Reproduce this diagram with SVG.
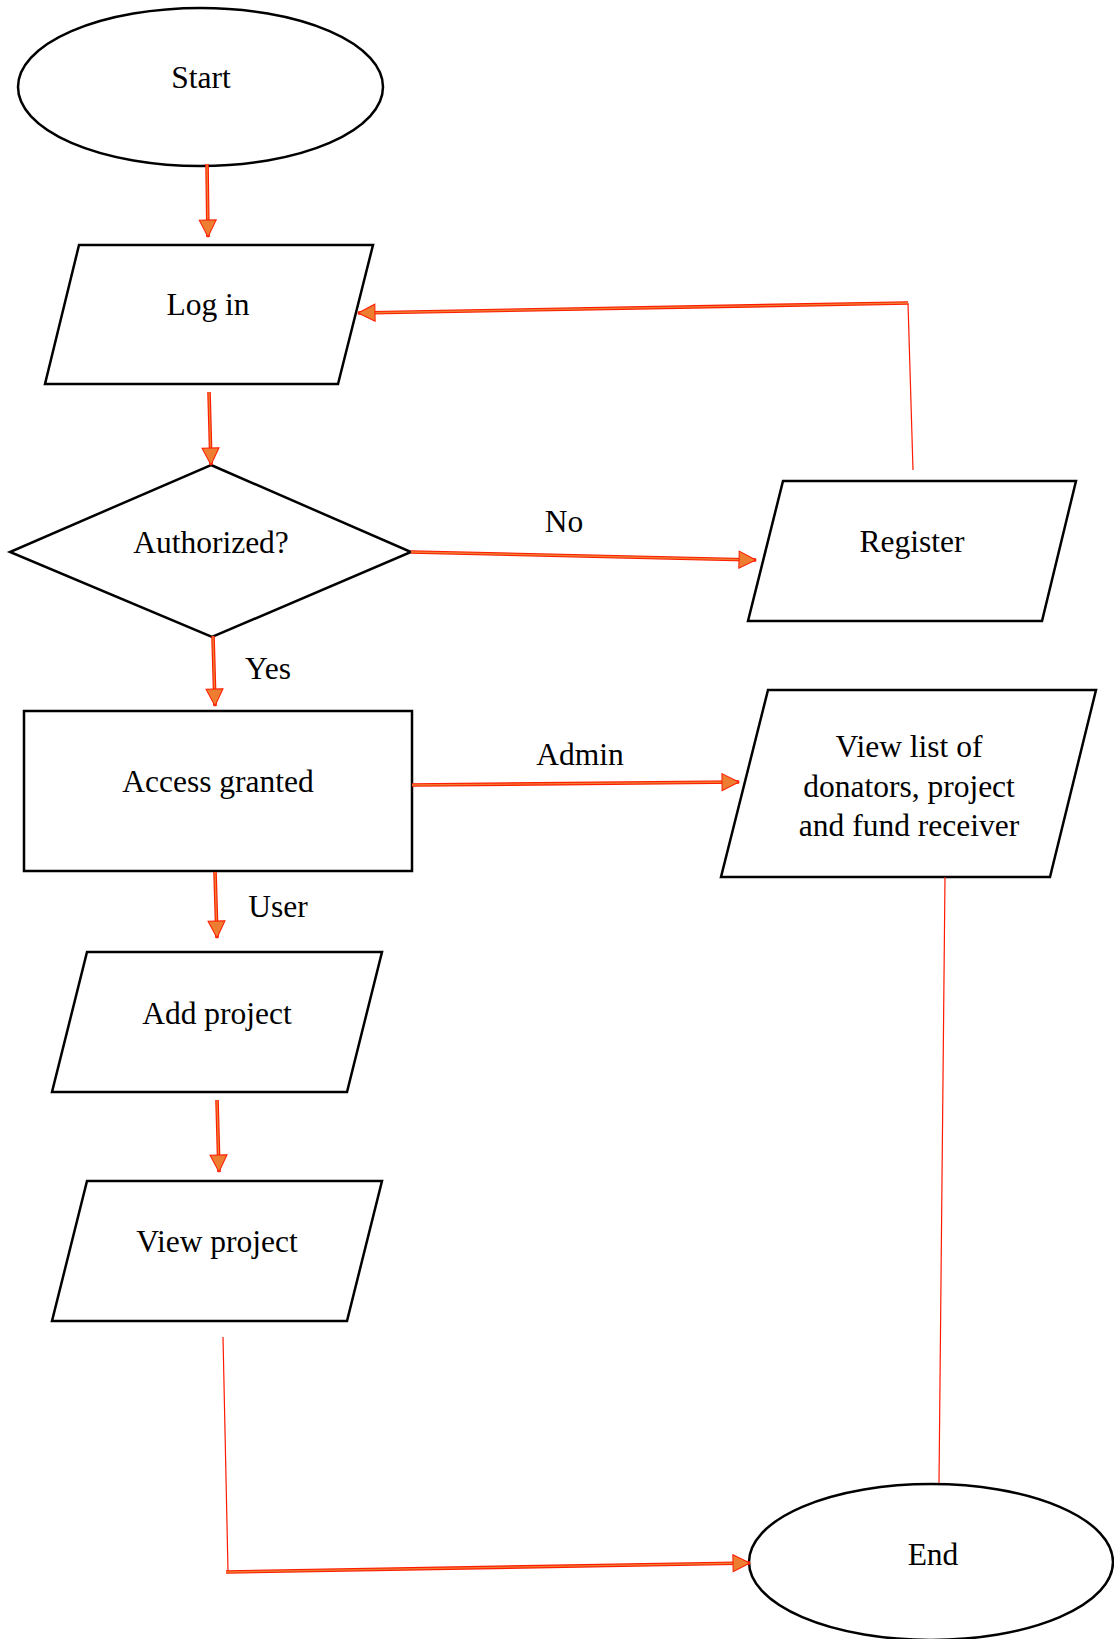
<svg xmlns="http://www.w3.org/2000/svg" width="1114" height="1639" viewBox="0 0 1114 1639">
<style>
.shape{fill:#fff;stroke:#000;stroke-width:2.5}
.lbl{font-family:"Liberation Serif","Times New Roman",serif;font-size:31.5px;fill:#000;text-anchor:middle}
.outer{fill:none;stroke:#ff1a00;stroke-width:3.6}
.inner{fill:none;stroke:#ed7d31;stroke-width:1.4}
.thin{fill:none;stroke:#ff1a00;stroke-width:1.2}
</style>
<defs>
<marker id="ah" markerUnits="userSpaceOnUse" markerWidth="18" markerHeight="18" refX="17" refY="8.5" orient="auto" overflow="visible">
<path d="M0,0 L17,8.5 L0,17 z" fill="#ed7d31" stroke="#ff1a00" stroke-width="1"/>
</marker>
</defs>
<rect width="1114" height="1639" fill="#fff"/>
<g id="start"><ellipse class="shape" cx="200.5" cy="87" rx="182.5" ry="79"/><text class="lbl" x="201" y="88">Start</text></g>
<g id="login"><polygon class="shape" points="79,245 373,245 338,384 45,384"/><text class="lbl" x="208" y="315">Log in</text></g>
<g id="authorized"><polygon class="shape" points="211,465 411,552 212,637 10,552"/><text class="lbl" x="211" y="553">Authorized?</text></g>
<g id="register"><polygon class="shape" points="783,481 1076,481 1042,621 748,621"/><text class="lbl" x="912" y="552">Register</text></g>
<g id="access"><rect class="shape" x="24" y="711" width="388" height="160"/><text class="lbl" x="218" y="792">Access granted</text></g>
<g id="viewlist"><polygon class="shape" points="768,690 1096,690 1050,877 721,877"/><text class="lbl" x="909" y="757">View list of</text><text class="lbl" x="909" y="797">donators, project</text><text class="lbl" x="909" y="836">and fund receiver</text></g>
<g id="addproject"><polygon class="shape" points="87,952 382,952 347,1092 52,1092"/><text class="lbl" x="217" y="1024">Add project</text></g>
<g id="viewproject"><polygon class="shape" points="87,1181 382,1181 347,1321 52,1321"/><text class="lbl" x="217" y="1252">View project</text></g>
<g id="end"><ellipse class="shape" cx="931" cy="1562" rx="182" ry="78"/><text class="lbl" x="933" y="1565">End</text></g>
<g id="connectors">
<path class="outer" d="M207,164 L208,237"/><path class="inner" d="M207,164 L208,237" marker-end="url(#ah)"/>
<path class="outer" d="M209,392 L211,465"/><path class="inner" d="M209,392 L211,465" marker-end="url(#ah)"/>
<path class="outer" d="M213,636 L215,706"/><path class="inner" d="M213,636 L215,706" marker-end="url(#ah)"/>
<path class="outer" d="M215,872 L217,938"/><path class="inner" d="M215,872 L217,938" marker-end="url(#ah)"/>
<path class="outer" d="M217,1100 L219,1172"/><path class="inner" d="M217,1100 L219,1172" marker-end="url(#ah)"/>
<path class="outer" d="M411,552 L756,560"/><path class="inner" d="M411,552 L756,560" marker-end="url(#ah)"/>
<path class="outer" d="M412,785 L739,782"/><path class="inner" d="M412,785 L739,782" marker-end="url(#ah)"/>
<path class="thin" d="M913,470 L908,303"/>
<path class="outer" d="M908,303 L358,313"/><path class="inner" d="M908,303 L358,313" marker-end="url(#ah)"/>
<path class="thin" d="M945,877 L939,1483"/>
<path class="thin" d="M223,1337 L228,1571"/>
<path class="outer" d="M226,1572 L750,1563"/><path class="inner" d="M226,1572 L750,1563" marker-end="url(#ah)"/>
<text class="lbl" x="564" y="532">No</text>
<text class="lbl" x="268" y="679">Yes</text>
<text class="lbl" x="580" y="765">Admin</text>
<text class="lbl" x="278" y="917">User</text>
</g>
</svg>
